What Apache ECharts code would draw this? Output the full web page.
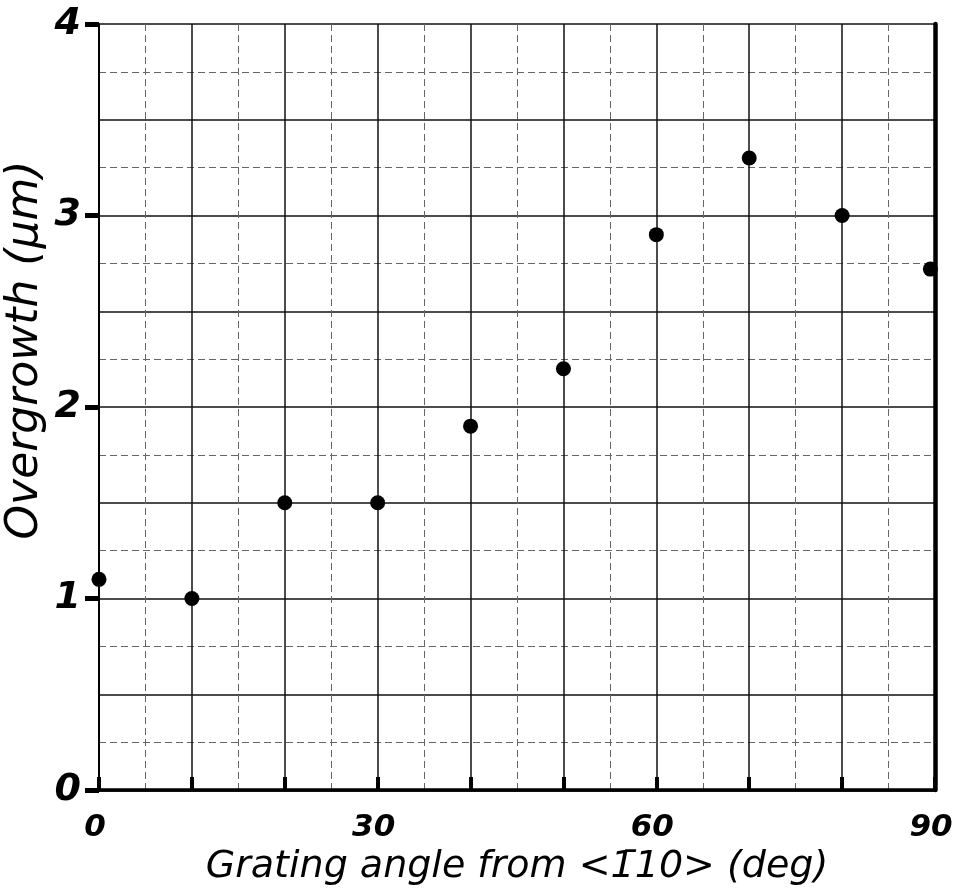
<!DOCTYPE html>
<html>
<head>
<meta charset="utf-8">
<script src="https://cdn.jsdelivr.net/npm/echarts@6/dist/echarts.min.js"></script>
<style>
  html, body { margin: 0; padding: 0; background: #fff; }
  #main { width: 954px; height: 894px; }
</style>
</head>
<body>
<div id="main"></div>
<script>
// grating angle (deg) and overgrowth (um)
var angles = [0, 10, 20, 30, 40, 50, 60, 70, 80, 89.5];
var overgrowth = [1.1, 1.0, 1.5, 1.5, 1.9, 2.2, 2.9, 3.3, 3.0, 2.72];
var xLabels = [0, 30, 60, 90];
var yLabels = [0, 1, 2, 3, 4];

var points = angles.map(function (a, i) { return [a, overgrowth[i]]; });

var ink = '#000';
var hand = '"DejaVu Sans", sans-serif';

var chart = echarts.init(document.getElementById('main'));

var option = {
  backgroundColor: '#fff',
  animation: false,
  grid: { left: 99, right: 19, top: 24, bottom: 104, containLabel: false, outerBoundsMode: 'none' },
  xAxis: [{
    type: 'value',
    min: 0, max: 90, interval: 10,
    axisLine: { show: true, lineStyle: { color: ink, width: 2.5 } },
    axisTick: { show: true, inside: true, length: 13, lineStyle: { color: ink, width: 4 } },
    axisLabel: {
      margin: 22, color: ink, fontSize: 31, fontFamily: hand, fontStyle: 'italic', fontWeight: 'bold',
      padding: [0, 8, 0, 0],
      formatter: function (v) { return xLabels.indexOf(v) >= 0 ? String(v) : ''; }
    },
    splitLine: { show: true, lineStyle: { color: '#111', width: 1.5 } },
    minorTick: { show: false, splitNumber: 2 },
    minorSplitLine: { show: true, lineStyle: { color: '#666', width: 1, type: [7, 4] } },
    name: 'Grating angle from <1\u030410> (deg)',
    nameLocation: 'middle',
    nameGap: 54,
    nameTextStyle: { color: ink, fontSize: 38, fontFamily: hand, fontStyle: 'italic' }
  }, {
    type: 'value', position: 'top',
    min: 0, max: 90,
    axisLine: { show: true, lineStyle: { color: ink, width: 3.5 } },
    axisTick: { show: false }, axisLabel: { show: false }, splitLine: { show: false }
  }],
  yAxis: [{
    type: 'value',
    min: 0, max: 4, interval: 0.5,
    axisLine: { show: true, lineStyle: { color: ink, width: 2 } },
    axisTick: { show: false },
    axisLabel: {
      margin: 18, color: ink, fontSize: 38, fontFamily: hand, fontStyle: 'italic', fontWeight: 'bold',
      formatter: function (v) { return yLabels.indexOf(v) >= 0 ? String(v) : ''; }
    },
    splitLine: { show: true, lineStyle: { color: '#111', width: 1.5 } },
    minorTick: { show: false, splitNumber: 2 },
    minorSplitLine: { show: true, lineStyle: { color: '#666', width: 1, type: [7, 4] } }
  }, {
    type: 'value',
    min: 0, max: 4, interval: 1,
    axisLine: { show: false },
    axisTick: { show: true, inside: true, length: 14, lineStyle: { color: ink, width: 5 } },
    axisLabel: { show: false }, splitLine: { show: false }
  }, {
    type: 'value', position: 'right',
    min: 0, max: 4,
    axisLine: { show: true, lineStyle: { color: ink, width: 4.5 } },
    axisTick: { show: false }, axisLabel: { show: false }, splitLine: { show: false }
  }],
  graphic: [{
    type: 'text',
    x: 26, y: 350,
    rotation: Math.PI / 2,
    style: {
      text: 'Overgrowth (\u03bcm)',
      fill: ink,
      font: 'italic 44px ' + hand,
      align: 'center',
      verticalAlign: 'middle'
    }
  }],
  series: [{
    type: 'scatter',
    data: points,
    symbol: 'circle',
    symbolSize: 15,
    itemStyle: { color: '#000', opacity: 1 }
  }]
};

chart.setOption(option);
</script>
</body>
</html>
